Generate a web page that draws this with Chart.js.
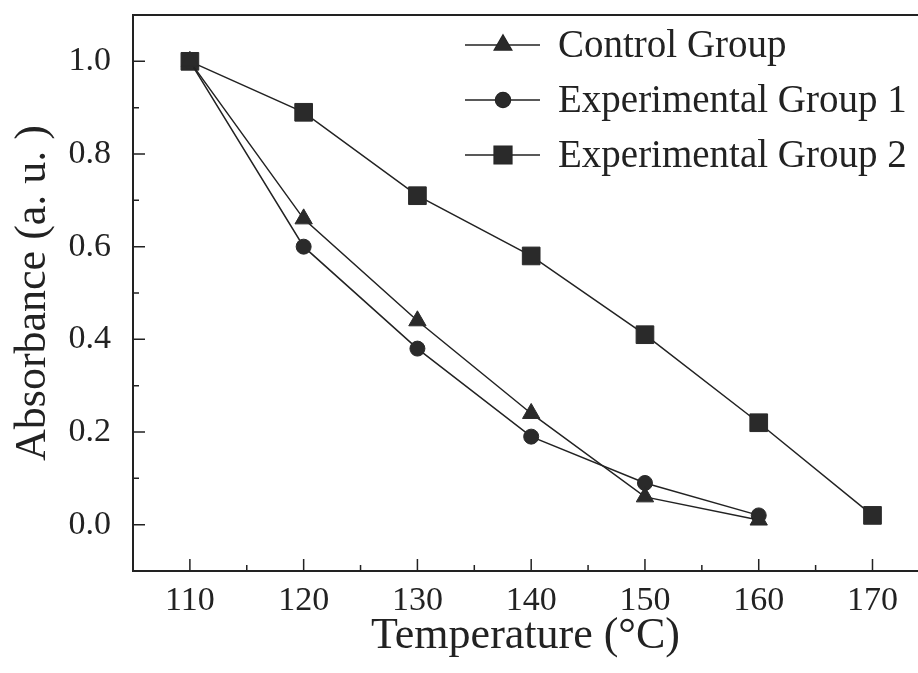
<!DOCTYPE html>
<html>
<head>
<meta charset="utf-8">
<script src="https://cdn.jsdelivr.net/npm/chart.js@4/dist/chart.umd.min.js"></script>
<style>
  html, body { margin: 0; padding: 0; background: #fff; }
  #wrap { width: 918px; height: 673px; }
</style>
</head>
<body>
<div id="wrap"><canvas id="chart" width="918" height="673"></canvas></div>
<script>
// values
const temperatures = [110, 120, 130, 140, 150, 160, 170];
const controlGroup = [1.0, 0.66, 0.44, 0.24, 0.06, 0.01];
const experimentalGroup1 = [1.0, 0.60, 0.38, 0.19, 0.09, 0.02];
const experimentalGroup2 = [1.0, 0.89, 0.71, 0.58, 0.41, 0.22, 0.02];

const xTickValues = [110, 120, 130, 140, 150, 160, 170];
const xMinorValues = [115, 125, 135, 145, 155, 165];
const yTickValues = [0, 0.2, 0.4, 0.6, 0.8, 1.0];
const yMinorValues = [0.1, 0.3, 0.5, 0.7, 0.9];

const INK = '#222';
const FONT = "'Liberation Serif', 'DejaVu Serif', serif";

const toPoints = vals => vals.map((v, i) => ({ x: temperatures[i], y: v }));

const series = [
  { label: 'Control Group', data: controlGroup, pointStyle: 'triangle', radius: 10 },
  { label: 'Experimental Group 1', data: experimentalGroup1, pointStyle: 'circle', radius: 7.5 },
  { label: 'Experimental Group 2', data: experimentalGroup2, pointStyle: 'rect', radius: 12.5 },
];

// frame (left, top, bottom) + inward ticks + legend inside the plot
const framePlugin = {
  id: 'frame',
  afterDraw(chart) {
    const { ctx, chartArea: a, scales: { x, y } } = chart;
    ctx.save();
    ctx.strokeStyle = INK;
    ctx.lineWidth = 2;
    ctx.beginPath();
    ctx.moveTo(a.right, a.top);
    ctx.lineTo(a.left, a.top);
    ctx.lineTo(a.left, a.bottom);
    ctx.lineTo(a.right, a.bottom);
    ctx.stroke();

    ctx.lineWidth = 1.5;
    ctx.beginPath();
    xTickValues.forEach(v => {
      const px = x.getPixelForValue(v);
      ctx.moveTo(px, a.bottom); ctx.lineTo(px, a.bottom - 12);
    });
    xMinorValues.forEach(v => {
      const px = x.getPixelForValue(v);
      ctx.moveTo(px, a.bottom); ctx.lineTo(px, a.bottom - 6);
    });
    yTickValues.forEach(v => {
      const py = y.getPixelForValue(v);
      ctx.moveTo(a.left, py); ctx.lineTo(a.left + 12, py);
    });
    yMinorValues.forEach(v => {
      const py = y.getPixelForValue(v);
      ctx.moveTo(a.left, py); ctx.lineTo(a.left + 6, py);
    });
    ctx.stroke();

    // legend
    const rows = [45, 100, 155];
    ctx.font = '39px ' + FONT;
    ctx.textBaseline = 'middle';
    ctx.textAlign = 'left';
    chart.data.datasets.forEach((ds, i) => {
      const yy = rows[i];
      ctx.strokeStyle = INK;
      ctx.lineWidth = 1.5;
      ctx.beginPath();
      ctx.moveTo(465, yy); ctx.lineTo(540, yy);
      ctx.stroke();
      ctx.fillStyle = '#2a2a2a';
      Chart.helpers.drawPoint(ctx, {
        pointStyle: ds.pointStyle, radius: ds.pointRadius, rotation: 0, borderWidth: 1
      }, 503, yy);
      ctx.fill();
      ctx.fillStyle = INK;
      ctx.fillText(ds.label, 558, yy + 2);
    });
    ctx.restore();
  }
};

new Chart(document.getElementById('chart'), {
  type: 'line',
  data: {
    datasets: series.map(s => ({
      label: s.label,
      data: toPoints(s.data),
      borderColor: INK,
      borderWidth: 1.5,
      backgroundColor: '#2a2a2a',
      pointBackgroundColor: '#2a2a2a',
      pointBorderColor: '#2a2a2a',
      pointBorderWidth: 1,
      pointStyle: s.pointStyle,
      pointRadius: s.radius,
      tension: 0,
      fill: false,
    })),
  },
  options: {
    responsive: false,
    animation: false,
    layout: { autoPadding: false, padding: { top: 15, right: 0, left: 0, bottom: 0 } },
    plugins: { legend: { display: false }, tooltip: { enabled: false } },
    scales: {
      x: {
        type: 'linear',
        min: 105,
        max: 174,
        grid: { display: false },
        border: { display: false },
        afterBuildTicks: s => { s.ticks = xTickValues.map(v => ({ value: v })); },
        afterFit: s => { s.height = 102; s.paddingLeft = 0; s.paddingRight = 0; },
        ticks: { color: INK, font: { family: FONT, size: 34 }, padding: 2, maxRotation: 0 },
        title: { display: true, text: 'Temperature (°C)', color: INK, font: { family: FONT, size: 44 }, padding: { top: 0, bottom: 10 } },
      },
      y: {
        type: 'linear',
        min: -0.1,
        max: 1.1,
        grid: { display: false },
        border: { display: false },
        afterBuildTicks: s => { s.ticks = yTickValues.map(v => ({ value: v })); },
        afterFit: s => { s.width = 133; s.paddingTop = 0; s.paddingBottom = 0; },
        ticks: { color: INK, font: { family: FONT, size: 34 }, padding: 14, callback: v => v.toFixed(1) },
        title: { display: true, text: 'Absorbance (a. u. )', color: INK, font: { family: FONT, size: 44 }, padding: { top: 7, bottom: 0 } },
      },
    },
  },
  plugins: [framePlugin],
});
</script>
</body>
</html>
